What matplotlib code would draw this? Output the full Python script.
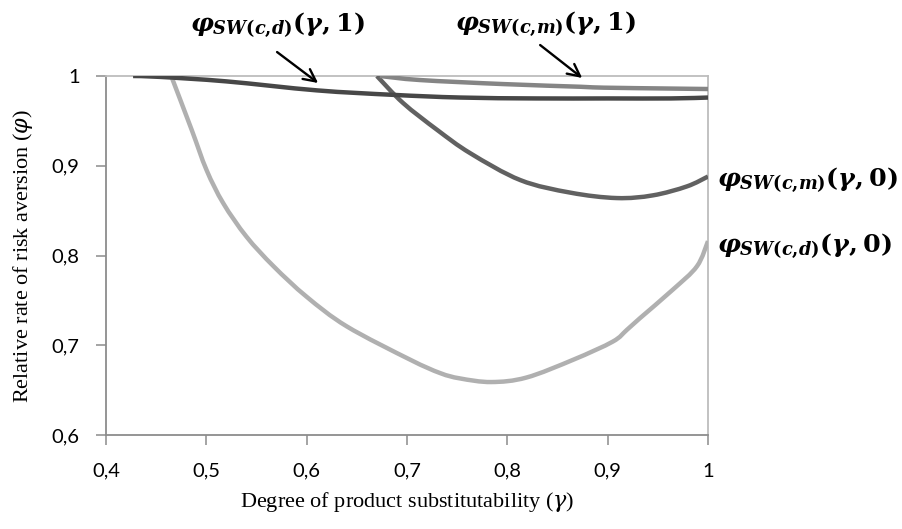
import matplotlib
matplotlib.use("Agg")
import matplotlib.pyplot as plt
from matplotlib.path import Path
from matplotlib.patches import PathPatch

# --- data ---
x_cd0 = [0.465, 0.4854, 0.5003, 0.517, 0.540, 0.567, 0.600, 0.640, 0.703, 0.733, 0.753,
         0.784, 0.819, 0.866, 0.905, 0.919, 0.932, 0.965, 0.989, 1.0]
y_cd0 = [1.0, 0.940, 0.895, 0.858, 0.821, 0.788, 0.754, 0.721, 0.684, 0.669, 0.663,
         0.659, 0.664, 0.684, 0.704, 0.717, 0.730, 0.762, 0.788, 0.816]

x_cm0 = [0.670, 0.696, 0.730, 0.763, 0.813, 0.863, 0.909, 0.945, 0.979, 1.0]
y_cm0 = [1.0, 0.970, 0.940, 0.914, 0.884, 0.870, 0.864, 0.867, 0.877, 0.888]

x_cd1 = [0.427, 0.454, 0.520, 0.610, 0.686, 0.753, 0.829, 0.9, 0.963, 1.0]
y_cd1 = [1.0, 0.999, 0.994, 0.984, 0.979, 0.976, 0.975, 0.975, 0.975, 0.976]

x_cm1 = [0.673, 0.713, 0.796, 0.873, 0.896, 0.963, 1.0]
y_cm1 = [1.0, 0.9955, 0.991, 0.988, 0.987, 0.986, 0.9855]

x_ticks = [0.4, 0.5, 0.6, 0.7, 0.8, 0.9, 1.0]
x_ticklabels = ["0,4", "0,5", "0,6", "0,7", "0,8", "0,9", "1"]
y_ticks = [0.6, 0.7, 0.8, 0.9, 1.0]
y_ticklabels = ["0,6", "0,7", "0,8", "0,9", "1"]

lab_cd1 = r"$\varphi_{SW(c{,}d)}(\gamma,1)$"
lab_cm1 = r"$\varphi_{SW(c{,}m)}(\gamma,1)$"
lab_cm0 = r"$\varphi_{SW(c{,}m)}(\gamma,0)$"
lab_cd0 = r"$\varphi_{SW(c{,}d)}(\gamma,0)$"

plt.rcParams["mathtext.fontset"] = "custom"
plt.rcParams["mathtext.it"] = "DejaVu Serif:italic:bold"
plt.rcParams["mathtext.rm"] = "DejaVu Serif:bold"
plt.rcParams["mathtext.bf"] = "DejaVu Serif:bold"


def smooth_path(xs, ys):
    """Excel-like smoothed line: Catmull-Rom segments as cubic Bezier curves."""
    pts = list(zip(xs, ys))
    n = len(pts)
    verts = [pts[0]]
    codes = [Path.MOVETO]
    for i in range(n - 1):
        p0 = pts[i - 1] if i > 0 else pts[i]
        p1 = pts[i]
        p2 = pts[i + 1]
        p3 = pts[i + 2] if i + 2 < n else pts[i + 1]
        c1 = (p1[0] + (p2[0] - p0[0]) / 6, p1[1] + (p2[1] - p0[1]) / 6)
        c2 = (p2[0] - (p3[0] - p1[0]) / 6, p2[1] - (p3[1] - p1[1]) / 6)
        verts += [c1, c2, p2]
        codes += [Path.CURVE4] * 3
    return Path(verts, codes)


fig = plt.figure(figsize=(9.03, 5.29), dpi=100)
ax = fig.add_axes([106/903, 1 - 435/529, (708-106)/903, (435-76)/529])

lw = 3.2
series = [
    (x_cd0, y_cd0, "#b0b0b0", 3),
    (x_cm0, y_cm0, "#616161", 3),
    (x_cm1, y_cm1, "#858585", 3),
    (x_cd1, y_cd1, "#474747", 4),
]
for xs, ys, col, z in series:
    ax.add_patch(PathPatch(smooth_path(xs, ys), fill=False, edgecolor=col, lw=lw,
                           capstyle="butt", joinstyle="round", zorder=z))

ax.set_xlim(0.4, 1.0)
ax.set_ylim(0.6, 1.0)
ax.set_xticks(x_ticks)
ax.set_xticklabels(x_ticklabels)
ax.set_yticks(y_ticks)
ax.set_yticklabels(y_ticklabels)

for s in ["left", "bottom"]:
    ax.spines[s].set_color("#8c8c8c")
    ax.spines[s].set_linewidth(1.3)
for s in ["top", "right"]:
    ax.spines[s].set_color("#bdbdbd")
    ax.spines[s].set_linewidth(1.3)

ax.tick_params(axis="both", direction="out", length=7, width=1.1, color="#8c8c8c",
               labelsize=14.5, labelcolor="black")
ax.tick_params(axis="x", pad=13)
ax.tick_params(axis="y", pad=12)
for t in ax.get_xticklabels() + ax.get_yticklabels():
    t.set_fontfamily("Lato")

ax.set_xlabel("Degree of product substitutability ($\\gamma$)", fontsize=16,
              fontfamily="Liberation Serif", labelpad=7)
ax.set_ylabel("Relative rate of risk aversion ($\\varphi$)", fontsize=16,
              fontfamily="Liberation Serif", labelpad=12)
ax.xaxis.label.set_math_fontfamily("dejavuserif")
ax.yaxis.label.set_math_fontfamily("dejavuserif")

# annotations
arrow = dict(arrowstyle="->", color="black", lw=1.7, mutation_scale=22,
             shrinkA=0, shrinkB=0)
ax.annotate("", xy=(0.6114, 0.9922), xytext=(0.5705, 1.0267),
            annotation_clip=False, arrowprops=arrow)
ax.annotate("", xy=(0.8746, 0.9978), xytext=(0.8327, 1.0345),
            annotation_clip=False, arrowprops=arrow)
fs = 18.3
ax.text(0.4837, 1.056, lab_cd1, fontsize=fs, ha="left", va="center", clip_on=False)
ax.text(0.748, 1.057, lab_cm1, fontsize=fs, ha="left", va="center", clip_on=False)
ax.text(1.009, 0.883, lab_cm0, fontsize=fs, ha="left", va="center", clip_on=False)
ax.text(1.009, 0.810, lab_cd0, fontsize=fs, ha="left", va="center", clip_on=False)

fig.savefig("out.png", dpi=100)
